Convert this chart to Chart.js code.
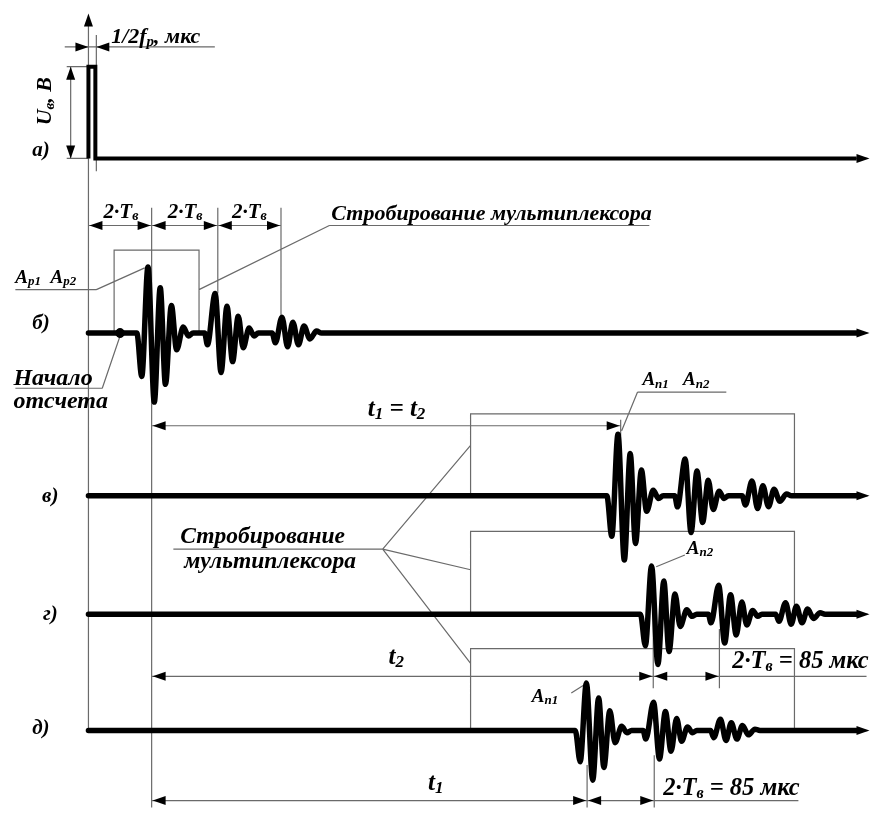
<!DOCTYPE html>
<html>
<head>
<meta charset="utf-8">
<script src="https://cdn.jsdelivr.net/npm/chart.js@4"></script>
<style>
  html, body { margin: 0; padding: 0; background: #fff; }
  canvas { display: block; }
</style>
</head>
<body>
<canvas id="myChart" width="875" height="813"></canvas>
<script>
// levels of the five traces а) .. д) (diagram units, top = 0)
const traceLabels = ['а)', 'б)', 'в)', 'г)', 'д)'];
const traceLevels = [155, 332, 497, 617, 735];

// probe pulse on trace а)
const pulse = [[84, 0], [84, 93], [91, 93], [91, 0], [862, 0]];

// echo train as seen on trace б): [time, amplitude] at every half-wave peak
const burst1 = [[133, 0], [138, -44], [144.3, 67], [150.7, -70], [156.7, 46], [162, -52], [168, 28], [173.3, -17], [180, 6], [185.3, -3], [190, 0]];
const burst2 = [[201.7, 0], [204.5, -12], [212.3, 40], [218.3, -40], [224.3, 27], [230, -29], [235.7, 17], [240.7, -15], [246.7, 5], [251.7, -3], [256, 0]];
const burst3 = [[270, 0], [273.3, -10], [280, 16], [285.7, -14], [291, 11], [296.7, -12], [302.3, 7], [308.3, -6], [315, 2], [320, 0]];

// shift and gain of the echo train on б), в), г), д)
const echoDelay = [0, 476, 510, 444];
const echoGain = [1, 0.93, 0.73, 0.72];

// strobe windows: [from, to, top, trace]
const strobes = [[110, 196, 248, 1], [471, 799, 414, 2], [471, 799, 533, 3], [471, 799, 652, 4]];

// thin guide lines
const guides = [
  [84, 14, 84, 735], [92, 30, 92, 168], [62, 62, 84, 62], [62, 155, 84, 155],
  [148, 205, 148, 813], [215, 205, 215, 292], [279, 205, 279, 318],
  [623, 420, 623, 436],
  [656, 617, 656, 692], [723, 632, 723, 692],
  [589, 770, 589, 813], [657, 760, 657, 813],
  // leaders and underlines
  [60, 42, 212, 42],
  [10, 288, 92, 288], [92, 288, 141, 266],
  [328, 223, 652, 223], [328, 223, 196, 288],
  [10, 388, 98, 388], [98, 388, 116, 335],
  [640, 392, 730, 392], [640, 392, 624, 431],
  [170, 551, 382, 551], [382, 551, 471, 446], [382, 551, 471, 572], [382, 551, 471, 667],
  [688, 557, 659, 569],
  [573, 697, 587, 688],
  [723, 680, 872, 680], [657, 806, 803, 806]
];

// dimension arrows with heads at both ends: [from, to, level]
const spans = [
  [84, 148, 223], [148, 215, 223], [215, 279, 223],
  [148, 623, 426],
  [148, 656, 680], [656, 723, 680],
  [148, 589, 806], [589, 657, 806]
];
// single heads: [x, y, direction]
const heads = [
  [84, 8, 'up'], [84, 42, 'right'], [92, 42, 'left'], [66, 62, 'up'], [66, 155, 'down']
];
const arrowsRight = traceLevels.map(l => [875, l, 'right']);

// texts: [text, x, y, size, align]
const texts = [
  ['1/2f_{р}, мкс', 107, 38, 22, 'left'],
  ['2·T_{в}', 117, 215, 21, 'center'],
  ['2·T_{в}', 182, 215, 21, 'center'],
  ['2·T_{в}', 247, 215, 21, 'center'],
  ['Стробирование мультиплексора', 330, 217, 22, 'left'],
  ['A_{р1}  A_{р2}', 10, 281, 19, 'left'],
  ['Начало', 8, 385, 24, 'left'],
  ['отсчета', 8, 408, 24, 'left'],
  ['t_{1} = t_{2}', 396, 416, 25, 'center'],
  ['A_{п1}   A_{п2}', 645, 385, 19, 'left'],
  ['Стробирование', 177, 545, 23.5, 'left'],
  ['мультиплексора', 181, 570, 23.5, 'left'],
  ['A_{п2}', 690, 556, 19, 'left'],
  ['t_{2}', 388, 668, 25, 'left'],
  ['2·T_{в} = 85 мкс', 736, 672, 24.5, 'left'],
  ['A_{п1}', 533, 706, 19, 'left'],
  ['t_{1}', 428, 795, 25, 'left'],
  ['2·T_{в} = 85 мкс', 666, 800, 24.5, 'left']
];
const labelX = [27, 27, 37, 38, 27];
const labelBase = [153, 328, 503, 623, 738];

function echoTrace(k) {
  const pts = [{ x: 84, y: traceLevels[k + 1] }];
  [burst1, burst2, burst3].forEach(b => b.forEach(([t, a]) => {
    pts.push({ x: t + echoDelay[k], y: traceLevels[k + 1] - a * echoGain[k] });
  }));
  pts.push({ x: 862, y: traceLevels[k + 1] });
  return pts;
}

const datasets = [{
  data: pulse.map(([t, a]) => ({ x: t, y: traceLevels[0] - a })),
  showLine: true, borderColor: '#000', borderWidth: 4, pointRadius: 0,
  tension: 0, borderJoinStyle: 'miter'
}];
for (let k = 0; k < 4; k++) {
  datasets.push({
    data: echoTrace(k), showLine: true, borderColor: '#000', borderWidth: 5.5,
    pointRadius: 0, cubicInterpolationMode: 'monotone', borderJoinStyle: 'round', borderCapStyle: 'round'
  });
}
datasets.push({ data: [{ x: 116, y: traceLevels[1] }], pointRadius: 4.5, backgroundColor: '#000', borderColor: '#000' });

function richText(ctx, str, x, y, size, align) {
  const parts = [];
  str.split(/(_\{[^}]*\})/).forEach(s => {
    if (!s) return;
    if (s.startsWith('_{')) parts.push([s.slice(2, -1), true]);
    else parts.push([s, false]);
  });
  const fontFor = sub => 'bold italic ' + (sub ? Math.round(size * 0.66) : size) + 'px "Liberation Serif"';
  let w = 0;
  parts.forEach(([s, sub]) => { ctx.font = fontFor(sub); w += ctx.measureText(s).width; });
  let cx = align === 'center' ? x - w / 2 : x;
  parts.forEach(([s, sub]) => {
    ctx.font = fontFor(sub);
    ctx.fillText(s, cx, sub ? y + size * 0.12 : y);
    cx += ctx.measureText(s).width;
  });
}

const diagram = {
  id: 'diagram',
  beforeDatasetsDraw(chart) {
    const { ctx, scales: { x, y } } = chart;
    const X = v => x.getPixelForValue(v), Y = v => y.getPixelForValue(v);
    ctx.save();
    ctx.strokeStyle = '#6a6a6a';
    ctx.lineWidth = 1.2;
    ctx.beginPath();
    guides.forEach(([x1, y1, x2, y2]) => { ctx.moveTo(X(x1), Y(y1)); ctx.lineTo(X(x2), Y(y2)); });
    strobes.forEach(([a, b, top, k]) => {
      ctx.moveTo(X(a), Y(traceLevels[k])); ctx.lineTo(X(a), Y(top));
      ctx.lineTo(X(b), Y(top)); ctx.lineTo(X(b), Y(traceLevels[k]));
    });
    spans.forEach(([a, b, l]) => { ctx.moveTo(X(a), Y(l)); ctx.lineTo(X(b), Y(l)); });
    ctx.moveTo(X(66), Y(62)); ctx.lineTo(X(66), Y(155));
    traceLevels.forEach(l => { ctx.moveTo(X(858), Y(l)); ctx.lineTo(X(873), Y(l)); });
    ctx.stroke();

    const head = (px, py, dir) => {
      const L = 13, H = 4.5;
      ctx.beginPath();
      ctx.moveTo(px, py);
      if (dir === 'right') { ctx.lineTo(px - L, py - H); ctx.lineTo(px - L, py + H); }
      if (dir === 'left') { ctx.lineTo(px + L, py - H); ctx.lineTo(px + L, py + H); }
      if (dir === 'up') { ctx.lineTo(px - H, py + L); ctx.lineTo(px + H, py + L); }
      if (dir === 'down') { ctx.lineTo(px - H, py - L); ctx.lineTo(px + H, py - L); }
      ctx.closePath();
      ctx.fill();
    };
    ctx.fillStyle = '#000';
    spans.forEach(([a, b, l]) => { head(X(a) + 1, Y(l), 'left'); head(X(b) - 1, Y(l), 'right'); });
    heads.concat(arrowsRight).forEach(([hx, hy, d]) => head(X(hx), Y(hy), d));
    ctx.restore();
  },
  afterDraw(chart) {
    const { ctx, scales: { x, y } } = chart;
    const X = v => x.getPixelForValue(v), Y = v => y.getPixelForValue(v);
    ctx.save();
    ctx.fillStyle = '#000';
    ctx.textBaseline = 'alphabetic';
    texts.forEach(([s, tx, ty, size, align]) => richText(ctx, s, X(tx), Y(ty), size, align));
    traceLabels.forEach((s, i) => richText(ctx, s, X(labelX[i]), Y(labelBase[i]), 21, 'left'));
    ctx.translate(X(46), Y(97));
    ctx.rotate(-Math.PI / 2);
    richText(ctx, 'U_{в}, В', 0, 0, 22, 'center');
    ctx.restore();
  }
};

new Chart(document.getElementById('myChart').getContext('2d'), {
  type: 'scatter',
  data: { datasets },
  options: {
    responsive: false,
    animation: false,
    layout: { padding: 0 },
    plugins: { legend: { display: false }, tooltip: { enabled: false } },
    scales: {
      x: { type: 'linear', min: 0, max: 875, display: false },
      y: { type: 'linear', min: 0, max: 813, reverse: true, display: false }
    }
  },
  plugins: [diagram]
});
</script>
</body>
</html>
